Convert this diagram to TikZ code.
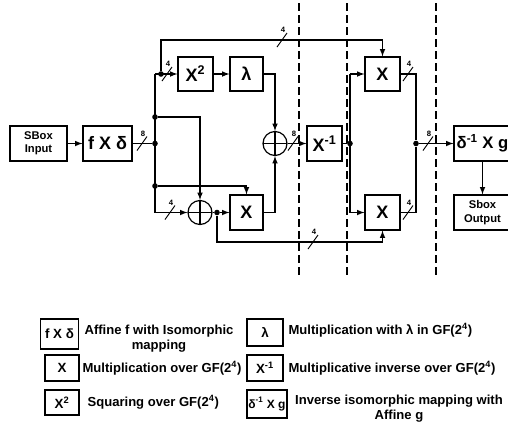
\documentclass[tikz,border=0pt]{standalone}
\usepackage{fontspec}
\setmainfont{Liberation Sans}
\usetikzlibrary{arrows.meta}

\newcommand{\wmark}[4]{%
  \draw[line width=0.7pt] (#2-5,#3+7) -- (#2+5,#3-7);
  \node[wlbl] (#1) at (#2+1,#3-10) {#4};}

\begin{document}
\begin{tikzpicture}[>=latex, x=0.75pt, y=-0.75pt, line width=0.9pt,
  blk/.style={draw, font=\fontsize{13.5}{14}\selectfont\bfseries, inner sep=0pt, minimum width=26.25pt, minimum height=26.25pt},
  io/.style={draw, font=\fontsize{8.4}{10}\selectfont\bfseries, align=center, inner sep=0pt, minimum height=26.25pt},
  xorop/.style={draw, circle, minimum size=18pt, inner sep=0pt,
    path picture={\draw (path picture bounding box.north) -- (path picture bounding box.south)
      (path picture bounding box.west) -- (path picture bounding box.east);}},
  dot/.style={circle, fill, inner sep=0pt, minimum size=4.2pt},
  wlbl/.style={font=\fontsize{5.8}{6}\selectfont\bfseries, inner sep=0pt},
  sep/.style={dashed, dash pattern=on 6pt off 3pt, line width=0.8pt},
  leg/.style={draw, font=\fontsize{10}{11}\selectfont\bfseries, inner sep=0pt, minimum width=25.5pt, minimum height=19.5pt},
  txt/.style={font=\fontsize{9.8}{11.25}\selectfont\bfseries, align=center, inner sep=0pt}]
\useasboundingbox (0,0) rectangle (508,426);

\node[io, minimum width=42.75pt] (in) at (38.5,143.5) {SBox\\Input};
\node[blk, minimum width=36.75pt] (fxd) at (107.5,143.5) {f X δ};
\node[blk, minimum height=25.5pt] (sq) at (195.5,74) {X\textsuperscript{2}};
\node[blk, minimum width=24.75pt, minimum height=25.5pt] (lam) at (246.5,74) {λ};
\node[blk, minimum width=24.75pt] (mula) at (246.5,212.5) {X};
\node[xorop] (xa) at (275,143.5) {};
\node[xorop] (xb) at (200,212.5) {};
\node[blk] (inv) at (324.5,143.5) {X\textsuperscript{-1}};
\node[blk, minimum height=25.5pt] (mulb) at (382.5,74) {X};
\node[blk] (mulc) at (382.5,212.5) {X};
\node[blk, minimum width=42.75pt, font=\fontsize{12.5}{14}\selectfont\bfseries] (aff) at (482.5,143.5) {δ\textsuperscript{-1} X g};
\node[io, minimum width=42.75pt] (out) at (482.5,212.5) {Sbox\\Output};

\node[dot] (j1) at (155,143.5) {};
\node[dot] (j2) at (155,117) {};
\node[dot] (j3) at (155,186) {};
\node[dot] (j4) at (161,74) {};
\node[dot] (j5) at (217,212.5) {};
\node[dot] (j6) at (350,143.5) {};
\node[dot] (j7) at (416,143.5) {};
\coordinate (bt) at (155,74);
\coordinate (bb) at (155,212.5);
\coordinate (ct) at (350,74);
\coordinate (cb) at (350,212.5);
\coordinate (ta) at (161,40);
\coordinate (tb) at (217,242);

\draw[sep] (299,3) -- (299,277);
\draw[sep, line width=1.4pt] (347,3) -- (347,277);
\draw[sep] (436,3) -- (436,277);

\draw[->] (in) -- (fxd);
\draw (fxd) -- (j1);
\draw (bt) -- (bb);
\draw[->] (bt) -- (sq);
\draw[->] (j4) -- (ta) -| (mulb);
\draw[->] (sq) -- (lam);
\draw[->] (lam) -| (xa);
\draw[->] (j2) -| (xb);
\draw[->] (bb) -- (xb);
\draw[->] (j3) -| (mula);
\draw (xb) -- (j5);
\draw[->] (j5) -- (mula);
\draw[->] (j5) -- (tb) -| (mulc);
\draw[->] (mula) -| (xa);
\draw[->] (xa) -- (inv);
\draw (inv) -- (j6);
\draw (ct) -- (cb);
\draw[->] (ct) -- (mulb);
\draw[->] (cb) -- (mulc);
\draw (mulb) -| (j7) |- (mulc);
\draw[->] (j7) -- (aff);
\draw[->] (aff) -- (out);

\wmark{w1}{142}{143.5}{8}
\wmark{w2}{167}{74}{4}
\wmark{w3}{282}{40}{4}
\wmark{w4}{170}{212.5}{4}
\wmark{w5}{313}{242}{4}
\wmark{w6}{293}{143.5}{8}
\wmark{w7}{408}{74}{4}
\wmark{w8}{408}{212.5}{4}
\wmark{w9}{428}{143.5}{8}

\node[leg, minimum width=29pt, minimum height=22.5pt] (lfxd) at (59.5,334) {f X δ};
\node[leg] (lmul) at (62,368) {X};
\node[leg, minimum height=18.75pt] (lsq) at (62,402.5) {X\textsuperscript{2}};
\node[leg, minimum width=27pt, minimum height=20.25pt] (llam) at (265,332.5) {λ};
\node[leg, minimum width=27pt] (linv) at (265,368) {X\textsuperscript{-1}};
\node[leg, minimum width=30pt, minimum height=21pt, font=\fontsize{9}{10}\selectfont\bfseries] (laff) at (267,404) {δ\textsuperscript{-1} X g};

\node[txt] (tfxd) at (159,338.5) {Affine f with Isomorphic\\mapping};
\node[txt, anchor=west] (tmul) at (82,368) {Multiplication over GF(2\textsuperscript{4})};
\node[txt, anchor=west] (tsq) at (87,402) {Squaring over GF(2\textsuperscript{4})};
\node[txt, anchor=west] (tlam) at (288,330) {Multiplication with λ in GF(2\textsuperscript{4})};
\node[txt, anchor=west] (tinv) at (288,368) {Multiplicative inverse over GF(2\textsuperscript{4})};
\node[txt] (taff) at (399,408.5) {Inverse isomorphic mapping with\\Affine g};
\end{tikzpicture}
\end{document}
